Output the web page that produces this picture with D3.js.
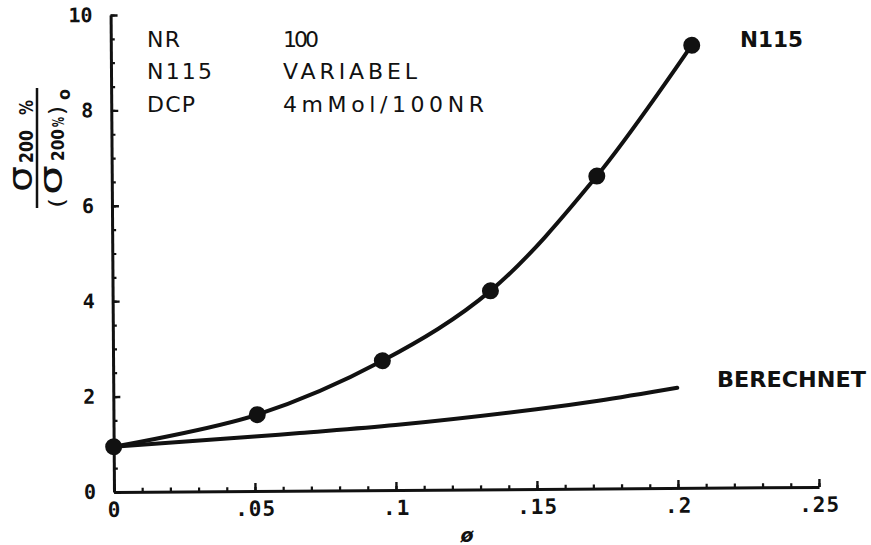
<!DOCTYPE html>
<html>
<head>
<meta charset="utf-8">
<script src="https://cdn.jsdelivr.net/npm/d3@7/dist/d3.min.js"></script>
<style>
  html, body { margin: 0; padding: 0; background: #fff; }
  svg { display: block; }
</style>
</head>
<body>
<svg id="chart" width="871" height="545"></svg>
<script>
// ---- data ----
const xTickValues = [0, 0.05, 0.1, 0.15, 0.2, 0.25];
const xTickLabels = ["0", ".05", ".1", ".15", ".2", ".25"];
const yTickValues = [0, 2, 4, 6, 8, 10];
const yTickLabels = ["0", "2", "4", "6", "8", "10"];

const n115X = [0, 0.051, 0.0955, 0.134, 0.172, 0.206];
const n115Y = [0.95, 1.6, 2.71, 4.16, 6.55, 9.28];

const berechnetX = [0, 0.05, 0.066, 0.1, 0.15, 0.172, 0.2];
const berechnetY = [0.95, 1.14, 1.21, 1.36, 1.67, 1.84, 2.1];

const recipeKeys = ["NR", "N115", "DCP"];
const recipeVals = ["100", "VARIABEL", "4mMol/100NR"];

// ---- drawing ----
const ink = "#111";
const svg = d3.select("#chart");
svg.append("rect").attr("width", 871).attr("height", 545).attr("fill", "#fff");

const x = d3.scaleLinear().domain([0, 0.25]).range([114, 819]);
const y = d3.scaleLinear().domain([0, 10]).range([492, 15]);

// whole plot slightly tilted like the plotter original
const plot = svg.append("g")
  .attr("transform", `rotate(-0.41, ${x(0)}, ${y(0)})`);

const monoBold = "'DejaVu Sans Mono', monospace";

// x axis: minor ticks
plot.append("g")
  .attr("transform", `translate(0,${y(0)})`)
  .call(d3.axisBottom(x).tickValues(d3.range(0, 0.2501, 0.01)).tickSize(-4).tickSizeOuter(0).tickFormat(""))
  .call(g => g.select(".domain").remove())
  .call(g => g.selectAll("line").attr("stroke", ink).attr("stroke-width", 2.2));
// x axis: major ticks + labels
plot.append("g")
  .attr("transform", `translate(0,${y(0)})`)
  .call(d3.axisBottom(x).tickValues(xTickValues).tickSize(-8).tickSizeOuter(0).tickPadding(10)
        .tickFormat((d, i) => xTickLabels[i]))
  .call(g => g.select(".domain").attr("stroke", ink).attr("stroke-width", 3))
  .call(g => g.selectAll("line").attr("stroke", ink).attr("stroke-width", 2.4))
  .call(g => g.selectAll("text").attr("fill", ink)
        .style("font-family", monoBold).style("font-weight", "bold").style("font-size", "21px")
        .style("letter-spacing", "1px"));

// y axis: minor ticks
plot.append("g")
  .attr("transform", `translate(${x(0)},0)`)
  .call(d3.axisLeft(y).tickValues(d3.range(0, 10.01, 0.5)).tickSize(-4).tickSizeOuter(0).tickFormat(""))
  .call(g => g.select(".domain").remove())
  .call(g => g.selectAll("line").attr("stroke", ink).attr("stroke-width", 2.2));
// y axis: major ticks + labels
plot.append("g")
  .attr("transform", `translate(${x(0)},0)`)
  .call(d3.axisLeft(y).tickValues(yTickValues).tickSize(-7).tickSizeOuter(0).tickPadding(18)
        .tickFormat((d, i) => yTickLabels[i]))
  .call(g => g.select(".domain").attr("stroke", ink).attr("stroke-width", 3))
  .call(g => g.selectAll("line").attr("stroke", ink).attr("stroke-width", 2.4))
  .call(g => g.selectAll("text").attr("fill", ink)
        .style("font-family", monoBold).style("font-weight", "bold").style("font-size", "20px"));

// curves
const lineGen = d3.line().x(d => x(d[0])).y(d => y(d[1])).curve(d3.curveCatmullRom.alpha(0.5));
const n115 = n115X.map((v, i) => [v, n115Y[i]]);
const ber = berechnetX.map((v, i) => [v, berechnetY[i]]);

plot.append("path").datum(ber).attr("d", lineGen)
  .attr("fill", "none").attr("stroke", ink).attr("stroke-width", 4).attr("stroke-linecap", "round");
plot.append("path").datum(n115).attr("d", lineGen)
  .attr("fill", "none").attr("stroke", ink).attr("stroke-width", 4).attr("stroke-linecap", "round");
plot.selectAll("circle.pt").data(n115).enter().append("circle")
  .attr("class", "pt")
  .attr("cx", d => x(d[0])).attr("cy", d => y(d[1])).attr("r", 8.5).attr("fill", ink);

// series labels
const sans = "'DejaVu Sans', sans-serif";
svg.append("text").attr("x", 740).attr("y", 47).text("N115")
  .attr("fill", ink).style("font-family", sans).style("font-weight", "bold").style("font-size", "21px")
  .attr("textLength", 63).attr("lengthAdjust", "spacingAndGlyphs");
svg.append("text").attr("x", 717).attr("y", 387).text("BERECHNET")
  .attr("fill", ink).style("font-family", sans).style("font-weight", "bold").style("font-size", "21px")
  .attr("textLength", 149).attr("lengthAdjust", "spacingAndGlyphs");

// recipe block
const rowY = [47, 79, 112];
const keyW = [33, 65, 48];
const valW = [36, 134, 201];
recipeKeys.forEach((k, i) => {
  svg.append("text").attr("x", 147).attr("y", rowY[i]).text(k)
    .attr("fill", ink).style("font-family", sans).style("font-size", "22px")
    .attr("textLength", keyW[i]).attr("lengthAdjust", "spacing");
  svg.append("text").attr("x", 283).attr("y", rowY[i]).text(recipeVals[i])
    .attr("fill", ink).style("font-family", sans).style("font-size", "22px")
    .attr("textLength", valW[i]).attr("lengthAdjust", "spacing");
});

// x axis title
svg.append("text").attr("x", 467).attr("y", 542).attr("text-anchor", "middle").text("ø")
  .attr("fill", ink).style("font-family", sans).style("font-weight", "bold").style("font-style", "italic")
  .style("font-size", "19px");

// y axis title: fraction, rotated
const yl = svg.append("g").attr("transform", "translate(37,148) rotate(-90)");
yl.append("line").attr("x1", -60).attr("x2", 60).attr("y1", 0).attr("y2", 0)
  .attr("stroke", ink).attr("stroke-width", 2.5);
const t = (txt, px, py, size, bold, len) => {
  const e = yl.append("text").attr("x", px).attr("y", py).text(txt).attr("fill", ink)
    .style("font-family", sans).style("font-size", size + "px").style("font-weight", bold ? "bold" : "normal");
  if (len) e.attr("textLength", len).attr("lengthAdjust", "spacingAndGlyphs");
  return e;
};
// numerator
t("σ", -44, -5, 33, false, 26);
t("200", -15, -4, 19, true, 33);
t("%", 33, -4, 19, true, 15);
// denominator
t("(", -60, 27, 22, false, 10);
t("σ", -47, 25, 32, false, 30);
t("200", -13, 27, 17, true, 32);
t("%", 21, 27, 16, true, 10);
t(")", 33, 27, 22, false, 9);
t("o", 48, 33, 17, true, 11);
</script>
</body>
</html>
